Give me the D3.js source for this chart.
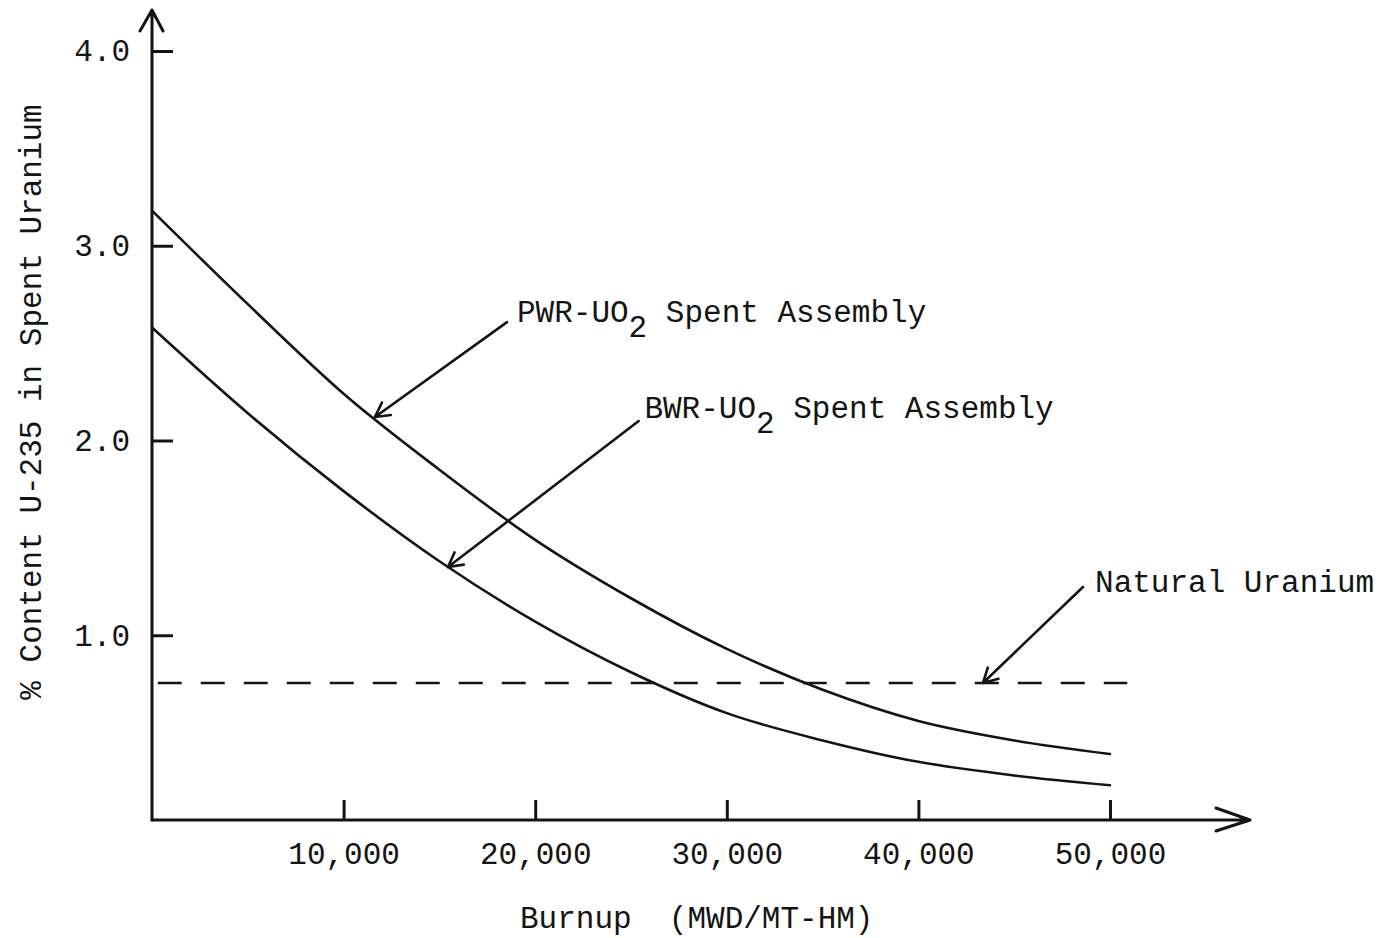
<!DOCTYPE html>
<html>
<head>
<meta charset="utf-8">
<script src="https://cdn.jsdelivr.net/npm/d3@7"></script>
<style>
  html, body { margin: 0; padding: 0; background: #fff; }
  svg text { font-family: "Liberation Mono", "DejaVu Sans Mono", monospace; fill: #141414; }
</style>
</head>
<body>
<svg id="chart" width="1391" height="938"></svg>
<script>
// ---- data (burnup in MWD/MT-HM, % U-235) ----
const burnup = [0, 5000, 10000, 15000, 20000, 25000, 30000, 35000, 40000, 45000, 50000];
const pwrValues = [3.18, 2.70, 2.24, 1.85, 1.49, 1.19, 0.93, 0.72, 0.56, 0.46, 0.39];
const bwrValues = [2.58, 2.14, 1.74, 1.38, 1.07, 0.81, 0.60, 0.46, 0.35, 0.28, 0.23];
const naturalUranium = 0.755;
const naturalRange = [300, 50900];
const xTicks = [10000, 20000, 30000, 40000, 50000];
const yTicks = [1.0, 2.0, 3.0, 4.0];
const xTitle = "Burnup  (MWD/MT-HM)";
const yTitle = "% Content U-235 in Spent Uranium";
// annotations: [label main, subscript, rest], label anchor (burnup, %), arrow start, arrow tip
const annoNames = ["PWR", "BWR", "NAT"];
const annoText = [["PWR-UO", "2", " Spent Assembly"], ["BWR-UO", "2", " Spent Assembly"], ["Natural Uranium", "", ""]];
const annoLabelAt = [[19050, 2.608], [25700, 2.115], [49220, 1.222]];
const annoFrom = [[18530, 2.608], [25400, 2.10], [48590, 1.248]];
const annoTip = [[11640, 2.121], [15450, 1.35], [43370, 0.755]];

// ---- layout ----
const svg = d3.select("#chart");
const x = d3.scaleLinear().domain([0, 50000]).range([152, 1110]);
const y = d3.scaleLinear().domain([0, 4]).range([830, 51]);
const axisY = 820;      // pixel row of the drawn x-axis
const axisX = x(0);     // pixel column of the drawn y-axis
const ink = "#141414";
const fs = 31;

// curves
const line = d3.line().x(d => x(d[0])).y(d => y(d[1])).curve(d3.curveMonotoneX);
[pwrValues, bwrValues].forEach(vals => {
  svg.append("path")
    .attr("d", line(burnup.map((b, i) => [b, vals[i]])))
    .attr("fill", "none").attr("stroke", ink).attr("stroke-width", 2.6)
    .attr("stroke-linecap", "round");
});

// natural uranium dashed line
svg.append("line")
  .attr("x1", x(naturalRange[0])).attr("x2", x(naturalRange[1]))
  .attr("y1", y(naturalUranium)).attr("y2", y(naturalUranium))
  .attr("stroke", ink).attr("stroke-width", 2.6)
  .attr("stroke-dasharray", "24,19");

// y axis
const gy = svg.append("g").attr("transform", `translate(${axisX},0)`)
  .call(d3.axisLeft(y).tickValues(yTicks).tickFormat(d3.format(".1f"))
        .tickSizeInner(-21).tickSizeOuter(0).tickPadding(22));
gy.select(".domain").remove();
gy.selectAll(".tick line").attr("stroke", ink).attr("stroke-width", 3);
gy.selectAll(".tick text").style("font-size", fs + "px").attr("fill", ink);

// x axis
const gx = svg.append("g").attr("transform", `translate(0,${axisY})`)
  .call(d3.axisBottom(x).tickValues(xTicks).tickFormat(d3.format(","))
        .tickSizeInner(-20).tickSizeOuter(0).tickPadding(22));
gx.select(".domain").remove();
gx.selectAll(".tick line").attr("stroke", ink).attr("stroke-width", 3);
gx.selectAll(".tick text").style("font-size", fs + "px").attr("fill", ink);

// axis lines with open arrow heads
svg.append("path")
  .attr("d", `M${axisX},${axisY} V10 M${axisX - 12},31 L${axisX},10 L${axisX + 11},31`)
  .attr("fill", "none").attr("stroke", ink).attr("stroke-width", 3)
  .attr("stroke-linejoin", "round").attr("stroke-linecap", "round");
svg.append("path")
  .attr("d", `M${axisX},${axisY} H1250 M1216,808 L1250,${axisY} L1216,831`)
  .attr("fill", "none").attr("stroke", ink).attr("stroke-width", 3)
  .attr("stroke-linejoin", "round").attr("stroke-linecap", "round");

// axis titles
svg.append("text")
  .attr("x", 520).attr("y", 928)
  .style("font-size", fs + "px").style("white-space", "pre")
  .text(xTitle);
svg.append("text")
  .attr("transform", "translate(41,402) rotate(-90)")
  .attr("text-anchor", "middle")
  .style("font-size", fs + "px")
  .text(yTitle);

// annotations
annoNames.forEach((name, i) => {
  const [lx, ly] = [x(annoLabelAt[i][0]), y(annoLabelAt[i][1])];
  const t = svg.append("text").attr("x", lx).attr("y", ly)
    .style("font-size", fs + "px").style("white-space", "pre");
  t.append("tspan").text(annoText[i][0]);
  if (annoText[i][1]) {
    t.append("tspan").attr("dy", 15).text(annoText[i][1]);
    t.append("tspan").attr("dy", -15).text(annoText[i][2]);
  }
  const x0 = x(annoFrom[i][0]), y0 = y(annoFrom[i][1]);
  const x1 = x(annoTip[i][0]), y1 = y(annoTip[i][1]);
  const ang = Math.atan2(y0 - y1, x0 - x1);
  const L = 16, spread = 0.5;
  const w1 = [x1 + L * Math.cos(ang + spread), y1 + L * Math.sin(ang + spread)];
  const w2 = [x1 + L * Math.cos(ang - spread), y1 + L * Math.sin(ang - spread)];
  svg.append("path")
    .attr("d", `M${x0},${y0} L${x1},${y1} M${w1[0]},${w1[1]} L${x1},${y1} L${w2[0]},${w2[1]}`)
    .attr("fill", "none").attr("stroke", ink).attr("stroke-width", 2.6)
    .attr("stroke-linecap", "round").attr("stroke-linejoin", "round");
});
</script>
</body>
</html>
